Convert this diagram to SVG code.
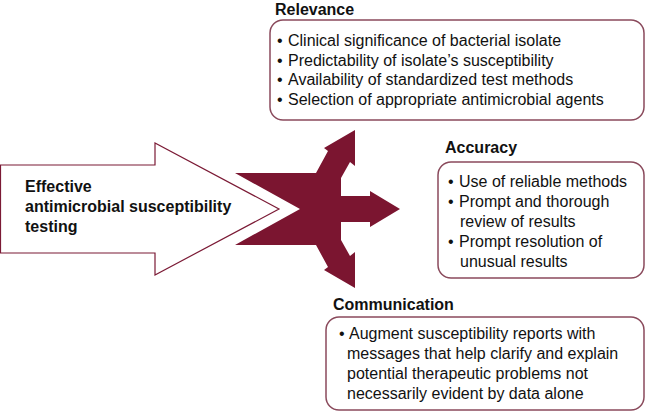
<svg xmlns="http://www.w3.org/2000/svg" width="650" height="414" viewBox="0 0 650 414">
<style>
text{font-family:"Liberation Sans",Arial,sans-serif;fill:#111}
.t{font-weight:bold;font-size:16px}
.b{font-size:16px}
.box{fill:#fff;stroke:#8a4a5c;stroke-width:1.5}
</style>
<rect width="650" height="414" fill="#fff"/>
<g id="connectors">
<polygon id="input-arrow" points="0.5,165 155,165 155,143 279,209 155,275 155,253 0.5,253" fill="#fff" stroke="#7b1a35" stroke-width="1.2"/>
<polygon id="split-arrow" fill="#7b1530" points="300,209 235,173 316,173 328,151 324,148 355,130 355,166 350,162 341,178 341,196 370,196 370,191 400,209 370,227 370,222 341,222 341,240 350,256 355,252 355,288 324,270 328,267 316,245 235,245"/>
</g>
<g id="source">
<text class="t" x="25" y="192">Effective</text>
<text class="t" x="25" y="212">antimicrobial susceptibility</text>
<text class="t" x="25" y="232">testing</text>
</g>
<g id="relevance">
<text class="t" x="275" y="15">Relevance</text>
<rect class="box" x="270" y="20" width="374" height="100" rx="13"/>
<text class="b" x="277" y="46">•<tspan x="288">Clinical significance of bacterial isolate</tspan></text>
<text class="b" x="277" y="65.5">•<tspan x="288">Predictability of isolate’s susceptibility</tspan></text>
<text class="b" x="277" y="85">•<tspan x="288">Availability of standardized test methods</tspan></text>
<text class="b" x="277" y="104.5">•<tspan x="288">Selection of appropriate antimicrobial agents</tspan></text>
</g>
<g id="accuracy">
<text class="t" x="445" y="153">Accuracy</text>
<rect class="box" x="438" y="162" width="206" height="116" rx="13"/>
<text class="b" x="448" y="187">•<tspan x="459">Use of reliable methods</tspan></text>
<text class="b" x="448" y="207">•<tspan x="459">Prompt and thorough</tspan></text>
<text class="b" x="460" y="227">review of results</text>
<text class="b" x="448" y="247">•<tspan x="459">Prompt resolution of</tspan></text>
<text class="b" x="460" y="267">unusual results</text>
</g>
<g id="communication">
<text class="t" x="333" y="310">Communication</text>
<rect class="box" x="326" y="317" width="318" height="93" rx="13"/>
<text class="b" x="339" y="339">•<tspan x="349">Augment susceptibility reports with</tspan></text>
<text class="b" x="347" y="359">messages that help clarify and explain</text>
<text class="b" x="347" y="379">potential therapeutic problems not</text>
<text class="b" x="347" y="399">necessarily evident by data alone</text>
</g>
</svg>
